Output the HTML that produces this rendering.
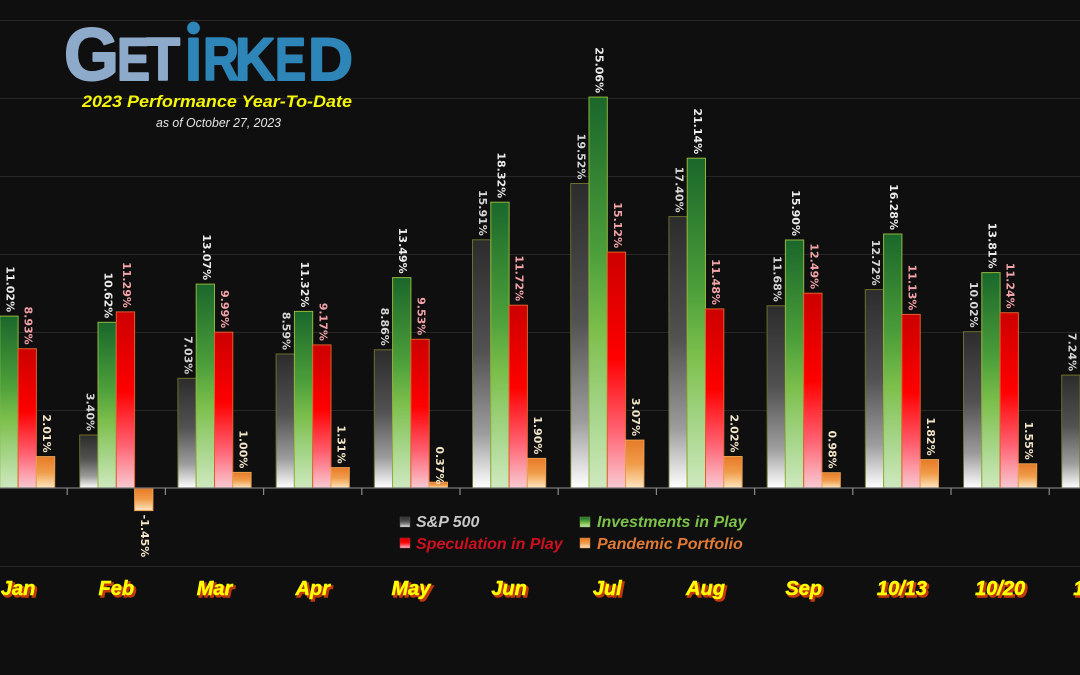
<!DOCTYPE html>
<html><head><meta charset="utf-8"><style>
html,body{margin:0;padding:0;background:#0f0f0f;}
svg{display:block;}
.lb{font-family:"DejaVu Sans","Liberation Sans",sans-serif;font-weight:bold;font-size:11px;}
.g{fill:#d6d6d6}.n{fill:#ececec}.r{fill:#f4a3a8}.o{fill:#f3e6c8}
.xl{font-family:"Liberation Sans",sans-serif;font-weight:bold;font-style:italic;font-size:20px;}
.lg{font-family:"Liberation Sans",sans-serif;font-weight:bold;font-style:italic;font-size:16px;}
</style></head><body>
<svg width="1080" height="675" viewBox="0 0 1080 675" xmlns="http://www.w3.org/2000/svg">
<defs>
<linearGradient id="gg" x1="0" y1="0" x2="0" y2="1"><stop offset="0" stop-color="#2c2c2c"/><stop offset="0.45" stop-color="#525252"/><stop offset="0.78" stop-color="#9c9c9c"/><stop offset="1" stop-color="#ffffff"/></linearGradient>
<linearGradient id="gn" x1="0" y1="0" x2="0" y2="1"><stop offset="0" stop-color="#1a672b"/><stop offset="0.4" stop-color="#4c9f3a"/><stop offset="0.6" stop-color="#7cbf4c"/><stop offset="0.82" stop-color="#a8d68c"/><stop offset="1" stop-color="#cfe9bf"/></linearGradient>
<linearGradient id="gr" x1="0" y1="0" x2="0" y2="1"><stop offset="0" stop-color="#cc0000"/><stop offset="0.45" stop-color="#ff0000"/><stop offset="0.75" stop-color="#ff6070"/><stop offset="1" stop-color="#f8cad2"/></linearGradient>
<linearGradient id="go" x1="0" y1="0" x2="0" y2="1"><stop offset="0" stop-color="#e67a28"/><stop offset="0.5" stop-color="#f09c4a"/><stop offset="1" stop-color="#fde6c0"/></linearGradient>
</defs>
<rect width="1080" height="675" fill="#0f0f0f"/>
<g stroke="#272727" stroke-width="1">
<line x1="0" y1="20.5" x2="1080" y2="20.5"/><line x1="0" y1="98.5" x2="1080" y2="98.5"/><line x1="0" y1="176.5" x2="1080" y2="176.5"/><line x1="0" y1="254.5" x2="1080" y2="254.5"/><line x1="0" y1="332.5" x2="1080" y2="332.5"/><line x1="0" y1="410.5" x2="1080" y2="410.5"/><line x1="0" y1="566.5" x2="1080" y2="566.5"/>
</g>
<!-- logo -->
<g font-family="Liberation Sans, sans-serif" font-weight="bold" stroke-width="2" stroke-linejoin="round">
<text x="64" y="80" font-size="74" fill="#8eaacb" stroke="#8eaacb" textLength="55" lengthAdjust="spacingAndGlyphs">G</text>
<text x="117" y="80" font-size="60" fill="#8eaacb" stroke="#8eaacb" textLength="33" lengthAdjust="spacingAndGlyphs">E</text>
<text x="146" y="80" font-size="60" fill="#8eaacb" stroke="#8eaacb" textLength="34" lengthAdjust="spacingAndGlyphs">T</text>
<text x="193.5" y="80" font-size="60" fill="#2d85b8" stroke="#2d85b8" text-anchor="middle">I</text>
<circle cx="193.5" cy="28" r="6.4" fill="#2d85b8"/>
<text x="203" y="80" font-size="60" fill="#2d85b8" stroke="#2d85b8" textLength="36" lengthAdjust="spacingAndGlyphs">R</text>
<text x="235" y="80" font-size="60" fill="#2d85b8" stroke="#2d85b8" textLength="40" lengthAdjust="spacingAndGlyphs">K</text>
<text x="275" y="80" font-size="60" fill="#2d85b8" stroke="#2d85b8" textLength="31" lengthAdjust="spacingAndGlyphs">E</text>
<text x="308" y="80" font-size="60" fill="#2d85b8" stroke="#2d85b8" textLength="45" lengthAdjust="spacingAndGlyphs">D</text>
</g>
<text x="82" y="107" font-family="Liberation Sans, sans-serif" font-weight="bold" font-style="italic" font-size="17" fill="#f5f50a" textLength="270" lengthAdjust="spacingAndGlyphs">2023 Performance Year-To-Date</text>
<text x="156" y="127" font-family="Liberation Sans, sans-serif" font-style="italic" font-size="13" fill="#e6e6e6" textLength="125" lengthAdjust="spacingAndGlyphs">as of October 27, 2023</text>

<!-- bars -->
<g stroke-width="1">
<rect x="-0.2" y="316.1" width="18.3" height="171.9" fill="url(#gn)" stroke="#93b53c"/>
<rect x="18.1" y="348.7" width="18.3" height="139.3" fill="url(#gr)" stroke="#e0602a"/>
<rect x="36.4" y="456.6" width="18.3" height="31.4" fill="url(#go)" stroke="#e8a050"/>
<rect x="79.7" y="435.0" width="18.3" height="53.0" fill="url(#gg)" stroke="#6e6e2a"/>
<rect x="98.0" y="322.3" width="18.3" height="165.7" fill="url(#gn)" stroke="#93b53c"/>
<rect x="116.3" y="311.9" width="18.3" height="176.1" fill="url(#gr)" stroke="#e0602a"/>
<rect x="134.6" y="488" width="18.3" height="22.6" fill="url(#go)" stroke="#e8a050"/>
<rect x="177.9" y="378.3" width="18.3" height="109.7" fill="url(#gg)" stroke="#6e6e2a"/>
<rect x="196.2" y="284.1" width="18.3" height="203.9" fill="url(#gn)" stroke="#93b53c"/>
<rect x="214.5" y="332.2" width="18.3" height="155.8" fill="url(#gr)" stroke="#e0602a"/>
<rect x="232.8" y="472.4" width="18.3" height="15.6" fill="url(#go)" stroke="#e8a050"/>
<rect x="276.1" y="354.0" width="18.3" height="134.0" fill="url(#gg)" stroke="#6e6e2a"/>
<rect x="294.4" y="311.4" width="18.3" height="176.6" fill="url(#gn)" stroke="#93b53c"/>
<rect x="312.7" y="344.9" width="18.3" height="143.1" fill="url(#gr)" stroke="#e0602a"/>
<rect x="331.0" y="467.6" width="18.3" height="20.4" fill="url(#go)" stroke="#e8a050"/>
<rect x="374.3" y="349.8" width="18.3" height="138.2" fill="url(#gg)" stroke="#6e6e2a"/>
<rect x="392.6" y="277.6" width="18.3" height="210.4" fill="url(#gn)" stroke="#93b53c"/>
<rect x="410.9" y="339.3" width="18.3" height="148.7" fill="url(#gr)" stroke="#e0602a"/>
<rect x="429.2" y="482.2" width="18.3" height="5.8" fill="url(#go)" stroke="#e8a050"/>
<rect x="472.5" y="239.8" width="18.3" height="248.2" fill="url(#gg)" stroke="#6e6e2a"/>
<rect x="490.8" y="202.2" width="18.3" height="285.8" fill="url(#gn)" stroke="#93b53c"/>
<rect x="509.1" y="305.2" width="18.3" height="182.8" fill="url(#gr)" stroke="#e0602a"/>
<rect x="527.4" y="458.4" width="18.3" height="29.6" fill="url(#go)" stroke="#e8a050"/>
<rect x="570.7" y="183.5" width="18.3" height="304.5" fill="url(#gg)" stroke="#6e6e2a"/>
<rect x="589.0" y="97.1" width="18.3" height="390.9" fill="url(#gn)" stroke="#93b53c"/>
<rect x="607.3" y="252.1" width="18.3" height="235.9" fill="url(#gr)" stroke="#e0602a"/>
<rect x="625.6" y="440.1" width="18.3" height="47.9" fill="url(#go)" stroke="#e8a050"/>
<rect x="668.9" y="216.6" width="18.3" height="271.4" fill="url(#gg)" stroke="#6e6e2a"/>
<rect x="687.2" y="158.2" width="18.3" height="329.8" fill="url(#gn)" stroke="#93b53c"/>
<rect x="705.5" y="308.9" width="18.3" height="179.1" fill="url(#gr)" stroke="#e0602a"/>
<rect x="723.8" y="456.5" width="18.3" height="31.5" fill="url(#go)" stroke="#e8a050"/>
<rect x="767.1" y="305.8" width="18.3" height="182.2" fill="url(#gg)" stroke="#6e6e2a"/>
<rect x="785.4" y="240.0" width="18.3" height="248.0" fill="url(#gn)" stroke="#93b53c"/>
<rect x="803.7" y="293.2" width="18.3" height="194.8" fill="url(#gr)" stroke="#e0602a"/>
<rect x="822.0" y="472.7" width="18.3" height="15.3" fill="url(#go)" stroke="#e8a050"/>
<rect x="865.3" y="289.6" width="18.3" height="198.4" fill="url(#gg)" stroke="#6e6e2a"/>
<rect x="883.6" y="234.0" width="18.3" height="254.0" fill="url(#gn)" stroke="#93b53c"/>
<rect x="901.9" y="314.4" width="18.3" height="173.6" fill="url(#gr)" stroke="#e0602a"/>
<rect x="920.2" y="459.6" width="18.3" height="28.4" fill="url(#go)" stroke="#e8a050"/>
<rect x="963.5" y="331.7" width="18.3" height="156.3" fill="url(#gg)" stroke="#6e6e2a"/>
<rect x="981.8" y="272.6" width="18.3" height="215.4" fill="url(#gn)" stroke="#93b53c"/>
<rect x="1000.1" y="312.7" width="18.3" height="175.3" fill="url(#gr)" stroke="#e0602a"/>
<rect x="1018.4" y="463.8" width="18.3" height="24.2" fill="url(#go)" stroke="#e8a050"/>
<rect x="1061.7" y="375.1" width="18.3" height="112.9" fill="url(#gg)" stroke="#6e6e2a"/>
</g>

<!-- axis -->
<line x1="0" y1="488" x2="1080" y2="488" stroke="#777" stroke-width="1.2"/>
<g stroke="#8a8a8a" stroke-width="1.2">
<line x1="67.2" y1="488" x2="67.2" y2="495"/><line x1="165.4" y1="488" x2="165.4" y2="495"/><line x1="263.6" y1="488" x2="263.6" y2="495"/><line x1="361.8" y1="488" x2="361.8" y2="495"/><line x1="460" y1="488" x2="460" y2="495"/><line x1="558.2" y1="488" x2="558.2" y2="495"/><line x1="656.4" y1="488" x2="656.4" y2="495"/><line x1="754.6" y1="488" x2="754.6" y2="495"/><line x1="852.8" y1="488" x2="852.8" y2="495"/><line x1="951" y1="488" x2="951" y2="495"/><line x1="1049.2" y1="488" x2="1049.2" y2="495"/>
</g>

<!-- labels -->
<g class="lb" text-anchor="end" dominant-baseline="central">
<text class="n" transform="translate(9.9,312.1) rotate(90)">11.02%</text>
<text class="r" transform="translate(28.2,344.7) rotate(90)">8.93%</text>
<text class="o" transform="translate(46.5,452.6) rotate(90)">2.01%</text>

<text class="g" transform="translate(89.8,431.0) rotate(90)">3.40%</text>
<text class="n" transform="translate(108.1,318.3) rotate(90)">10.62%</text>
<text class="r" transform="translate(126.4,307.9) rotate(90)">11.29%</text>
<text class="o" text-anchor="start" transform="translate(144.7,514.6) rotate(90)">-1.45%</text>

<text class="g" transform="translate(188.0,374.3) rotate(90)">7.03%</text>
<text class="n" transform="translate(206.3,280.1) rotate(90)">13.07%</text>
<text class="r" transform="translate(224.6,328.2) rotate(90)">9.99%</text>
<text class="o" transform="translate(242.9,468.4) rotate(90)">1.00%</text>

<text class="g" transform="translate(286.2,350.0) rotate(90)">8.59%</text>
<text class="n" transform="translate(304.5,307.4) rotate(90)">11.32%</text>
<text class="r" transform="translate(322.8,340.9) rotate(90)">9.17%</text>
<text class="o" transform="translate(341.1,463.6) rotate(90)">1.31%</text>

<text class="g" transform="translate(384.4,345.8) rotate(90)">8.86%</text>
<text class="n" transform="translate(402.7,273.6) rotate(90)">13.49%</text>
<text class="r" transform="translate(421.0,335.3) rotate(90)">9.53%</text>
<text class="o" transform="translate(439.3,484.5) rotate(90)">0.37%</text>

<text class="g" transform="translate(482.6,235.8) rotate(90)">15.91%</text>
<text class="n" transform="translate(500.9,198.2) rotate(90)">18.32%</text>
<text class="r" transform="translate(519.2,301.2) rotate(90)">11.72%</text>
<text class="o" transform="translate(537.5,454.4) rotate(90)">1.90%</text>

<text class="g" transform="translate(580.8,179.5) rotate(90)">19.52%</text>
<text class="n" transform="translate(599.1,93.1) rotate(90)">25.06%</text>
<text class="r" transform="translate(617.4,248.1) rotate(90)">15.12%</text>
<text class="o" transform="translate(635.7,436.1) rotate(90)">3.07%</text>

<text class="g" transform="translate(679.0,212.6) rotate(90)">17.40%</text>
<text class="n" transform="translate(697.3,154.2) rotate(90)">21.14%</text>
<text class="r" transform="translate(715.6,304.9) rotate(90)">11.48%</text>
<text class="o" transform="translate(733.9,452.5) rotate(90)">2.02%</text>

<text class="g" transform="translate(777.2,301.8) rotate(90)">11.68%</text>
<text class="n" transform="translate(795.5,236.0) rotate(90)">15.90%</text>
<text class="r" transform="translate(813.8,289.2) rotate(90)">12.49%</text>
<text class="o" transform="translate(832.1,468.7) rotate(90)">0.98%</text>

<text class="g" transform="translate(875.4,285.6) rotate(90)">12.72%</text>
<text class="n" transform="translate(893.7,230.0) rotate(90)">16.28%</text>
<text class="r" transform="translate(912.0,310.4) rotate(90)">11.13%</text>
<text class="o" transform="translate(930.3,455.6) rotate(90)">1.82%</text>

<text class="g" transform="translate(973.6,327.7) rotate(90)">10.02%</text>
<text class="n" transform="translate(991.9,268.6) rotate(90)">13.81%</text>
<text class="r" transform="translate(1010.2,308.7) rotate(90)">11.24%</text>
<text class="o" transform="translate(1028.5,459.8) rotate(90)">1.55%</text>

<text class="g" transform="translate(1071.8,371.1) rotate(90)">7.24%</text>
</g>

<!-- legend -->
<rect x="400" y="517" width="10" height="10" fill="url(#gg)" stroke="#555" stroke-width="0.5"/>
<text class="lg" x="416" y="527" fill="#c8c8c8">S&amp;P 500</text>
<rect x="580" y="517" width="10" height="10" fill="url(#gn)" stroke="#6a9a3a" stroke-width="0.5"/>
<text class="lg" x="597" y="527" fill="#7cc14a">Investments in Play</text>
<rect x="400" y="538" width="10" height="10" fill="url(#gr)" stroke="#c03030" stroke-width="0.5"/>
<text class="lg" x="416" y="549" fill="#cf0f1e">Speculation in Play</text>
<rect x="580" y="538" width="10" height="10" fill="url(#go)" stroke="#d08040" stroke-width="0.5"/>
<text class="lg" x="597" y="549" fill="#e07a35">Pandemic Portfolio</text>

<!-- x labels -->
<g class="xl" text-anchor="middle">
<g fill="#c0380c" stroke="#c0380c" stroke-width="1.5" transform="translate(2,2)">
<text x="18.1" y="595">Jan</text><text x="116.3" y="595">Feb</text><text x="214.5" y="595">Mar</text><text x="312.7" y="595">Apr</text><text x="410.9" y="595">May</text><text x="509.1" y="595">Jun</text><text x="607.3" y="595">Jul</text><text x="705.5" y="595">Aug</text><text x="803.7" y="595">Sep</text><text x="901.9" y="595">10/13</text><text x="1000.1" y="595">10/20</text><text x="1098.3" y="595">10/27</text>
</g>
<g fill="#ffff00" stroke="#ffff00" stroke-width="0.5">
<text x="18.1" y="595">Jan</text><text x="116.3" y="595">Feb</text><text x="214.5" y="595">Mar</text><text x="312.7" y="595">Apr</text><text x="410.9" y="595">May</text><text x="509.1" y="595">Jun</text><text x="607.3" y="595">Jul</text><text x="705.5" y="595">Aug</text><text x="803.7" y="595">Sep</text><text x="901.9" y="595">10/13</text><text x="1000.1" y="595">10/20</text><text x="1098.3" y="595">10/27</text>
</g>
</g>
</svg>
</body></html>
